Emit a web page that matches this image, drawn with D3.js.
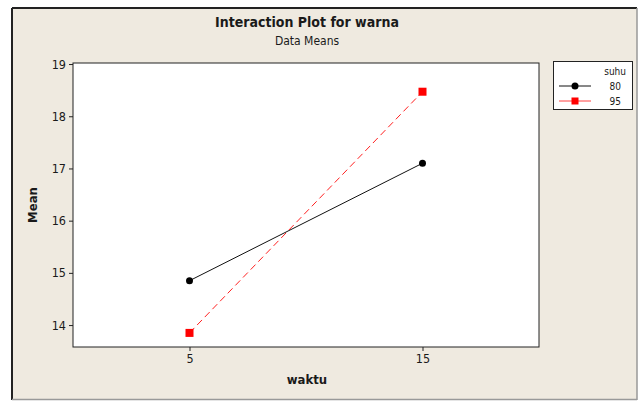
<!DOCTYPE html>
<html>
<head>
<meta charset="utf-8">
<script src="https://cdn.jsdelivr.net/npm/d3@7"></script>
<style>
  body { margin: 0; background: #ffffff; }
  svg { display: block; }
  text { font-family: "DejaVu Sans Condensed", "DejaVu Sans", sans-serif; fill: #1a1a1a; }
</style>
</head>
<body>
<svg width="639" height="401"></svg>
<script>
// Данные графика
const waktu = [5, 15];
const seri = ["80", "95"];
const mean80 = [14.85, 17.1];
const mean95 = [13.85, 18.47];
const yTicks = [14, 15, 16, 17, 18, 19];

const svg = d3.select("svg");

// Фон и рамка
svg.append("rect")
    .attr("x", 12).attr("y", 8)
    .attr("width", 625).attr("height", 391)
    .attr("fill", "#efeae0");
svg.append("line").attr("x1", 12).attr("x2", 637).attr("y1", 8).attr("y2", 8)
    .attr("stroke", "#222").attr("stroke-width", 2);
svg.append("line").attr("x1", 12).attr("x2", 12).attr("y1", 8).attr("y2", 400)
    .attr("stroke", "#222").attr("stroke-width", 2);
svg.append("line").attr("x1", 637).attr("x2", 637).attr("y1", 8).attr("y2", 400)
    .attr("stroke", "#999").attr("stroke-width", 1.5);
svg.append("line").attr("x1", 12).attr("x2", 637).attr("y1", 399.5).attr("y2", 399.5)
    .attr("stroke", "#999").attr("stroke-width", 1.5);

// Область графика
const area = { left: 73, top: 63, right: 539, bottom: 347 };

const scX = d3.scaleLinear().domain([0, 20]).range([area.left, area.right]);
const scY = d3.scaleLinear().domain([13.58, 19.02]).range([area.bottom, area.top]);

svg.append("rect")
    .attr("x", area.left).attr("y", area.top)
    .attr("width", area.right - area.left).attr("height", area.bottom - area.top)
    .attr("fill", "#fff").attr("stroke", "#222").attr("stroke-width", 1);

// Оси
const axisY = svg.append("g")
    .attr("transform", `translate(${area.left},0)`)
    .call(d3.axisLeft(scY).tickValues(yTicks).tickSize(4).tickPadding(3).tickFormat(d3.format("d")));
const axisX = svg.append("g")
    .attr("transform", `translate(0,${area.bottom})`)
    .call(d3.axisBottom(scX).tickValues(waktu).tickSize(4).tickPadding(3).tickFormat(d3.format("d")));
[axisX, axisY].forEach(g => {
    g.select(".domain").remove();
    g.selectAll("line").attr("stroke", "#222");
    g.selectAll("text").style("font-size", "12.5px").attr("fill", "#1a1a1a");
});

// Линии серий
const line = d3.line().x((d, i) => scX(waktu[i])).y(d => scY(d));

svg.append("path")
    .datum(mean80)
    .attr("fill", "none").attr("stroke", "#111").attr("stroke-width", 1)
    .attr("d", line);
svg.append("path")
    .datum(mean95)
    .attr("fill", "none").attr("stroke", "#ff2020").attr("stroke-width", 1)
    .attr("stroke-dasharray", "7,4")
    .attr("d", line);

svg.selectAll(".dot80")
    .data(mean80).enter().append("circle")
    .attr("cx", (d, i) => scX(waktu[i])).attr("cy", d => scY(d))
    .attr("r", 3.5).attr("fill", "#000");
svg.selectAll(".sq95")
    .data(mean95).enter().append("rect")
    .attr("x", (d, i) => scX(waktu[i]) - 4).attr("y", d => scY(d) - 4)
    .attr("width", 8).attr("height", 8).attr("fill", "#ff0000");

// Заголовки
svg.append("text").attr("x", 307).attr("y", 27).attr("text-anchor", "middle")
    .style("font-size", "14px").style("font-weight", "bold").text("Interaction Plot for warna");
svg.append("text").attr("x", 307).attr("y", 45).attr("text-anchor", "middle")
    .style("font-size", "12px").text("Data Means");
svg.append("text").attr("x", 307).attr("y", 384).attr("text-anchor", "middle")
    .style("font-size", "13px").style("font-weight", "bold").text("waktu");
svg.append("text").attr("transform", "translate(37,205) rotate(-90)").attr("text-anchor", "middle")
    .style("font-size", "13px").style("font-weight", "bold").text("Mean");

// Легенда
const leg = svg.append("g");
leg.append("rect").attr("x", 553.5).attr("y", 61.5).attr("width", 79).attr("height", 48)
    .attr("fill", "#fff").attr("stroke", "#222").attr("stroke-width", 1);
leg.append("text").attr("x", 626).attr("y", 75).attr("text-anchor", "end")
    .style("font-size", "10px").text("suhu");
seri.forEach((s, i) => {
    const y = 86 + i * 15;
    leg.append("line").attr("x1", 559).attr("x2", 591).attr("y1", y).attr("y2", y)
        .attr("stroke", i === 0 ? "#111" : "#ff4040").attr("stroke-width", 1);
    if (i === 0) {
        leg.append("circle").attr("cx", 575).attr("cy", y).attr("r", 3.5).attr("fill", "#000");
    } else {
        leg.append("rect").attr("x", 571.5).attr("y", y - 3.5).attr("width", 7).attr("height", 7).attr("fill", "#ff0000");
    }
    leg.append("text").attr("x", 621).attr("y", y + 3.5).attr("text-anchor", "end")
        .style("font-size", "10px").text(s);
});
</script>
</body>
</html>
